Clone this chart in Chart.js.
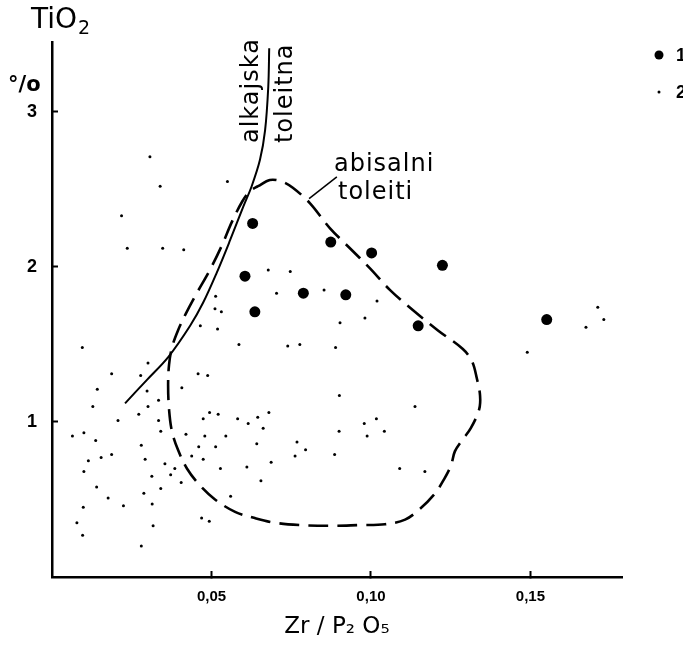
<!DOCTYPE html>
<html>
<head>
<meta charset="utf-8">
<script src="https://cdn.jsdelivr.net/npm/chart.js@4.4.0/dist/chart.umd.min.js"></script>
<style>
  html, body { margin: 0; padding: 0; background: #fff; }
  #wrap { width: 683px; height: 647px; }
</style>
</head>
<body>
<div id="wrap"><canvas id="chart" width="683" height="647"></canvas></div>
<script>
// axis ticks
const xTicks = [0.05, 0.10, 0.15];
const yTicks = [1, 2, 3];

// series 1 (big dots): [Zr/P2O5, TiO2 %]
const group1 = [
  [0.0629, 2.28], [0.0874, 2.16], [0.1002, 2.09], [0.1224, 2.01], [0.0605, 1.94],
  [0.0788, 1.83], [0.0921, 1.82], [0.0636, 1.71], [0.1148, 1.62], [0.1551, 1.66]
];

// series 2 (small dots)
const group2 = [
  [0.0307, 2.71], [0.0339, 2.52], [0.0550, 2.55], [0.0218, 2.33], [0.0236, 2.12],
  [0.0347, 2.12], [0.0413, 2.11], [0.0513, 1.81], [0.0511, 1.73], [0.0531, 1.71],
  [0.0465, 1.62], [0.0519, 1.60], [0.0678, 1.98], [0.0747, 1.97], [0.0704, 1.83],
  [0.0853, 1.85], [0.1019, 1.78], [0.0903, 1.64], [0.0981, 1.67], [0.0739, 1.49],
  [0.0777, 1.50], [0.0889, 1.48], [0.0901, 1.17], [0.1138, 1.10], [0.0645, 1.03],
  [0.0680, 1.06], [0.0662, 0.96], [0.0979, 0.99], [0.1017, 1.02], [0.0900, 0.94],
  [0.1042, 0.94], [0.0988, 0.91], [0.0642, 0.86], [0.0768, 0.87], [0.0795, 0.82],
  [0.0762, 0.78], [0.0886, 0.79], [0.0687, 0.74], [0.1090, 0.70], [0.1169, 0.68],
  [0.0655, 0.62], [0.0095, 1.48], [0.0301, 1.38], [0.0187, 1.31], [0.0278, 1.30],
  [0.0458, 1.31], [0.0488, 1.30], [0.0142, 1.21], [0.0298, 1.20], [0.0407, 1.22],
  [0.0334, 1.14], [0.0128, 1.10], [0.0301, 1.10], [0.0207, 1.01], [0.0272, 1.05],
  [0.0334, 1.01], [0.0494, 1.06], [0.0521, 1.05], [0.0474, 1.02], [0.0582, 1.02],
  [0.0615, 0.99], [0.0064, 0.91], [0.0100, 0.93], [0.0137, 0.88], [0.0341, 0.94],
  [0.0420, 0.92], [0.0479, 0.91], [0.0545, 0.91], [0.0280, 0.85], [0.0460, 0.84],
  [0.0513, 0.84], [0.0114, 0.75], [0.0154, 0.77], [0.0187, 0.79], [0.0292, 0.76],
  [0.0438, 0.78], [0.0474, 0.76], [0.0100, 0.68], [0.0354, 0.73], [0.0385, 0.70],
  [0.0372, 0.66], [0.0313, 0.65], [0.0528, 0.70], [0.0611, 0.71], [0.0405, 0.61],
  [0.0140, 0.58], [0.0341, 0.57], [0.0176, 0.51], [0.0288, 0.54], [0.0224, 0.46],
  [0.0314, 0.47], [0.0560, 0.52], [0.0098, 0.45], [0.0078, 0.35], [0.0469, 0.38],
  [0.0493, 0.36], [0.0096, 0.27], [0.0317, 0.33], [0.0280, 0.20], [0.0586, 1.50],
  [0.1711, 1.74], [0.1730, 1.66], [0.1674, 1.61], [0.1490, 1.45]
];

// boundary alkaline / tholeiitic (solid)
const boundaryLine = [
  [0.0229, 1.12], [0.0297, 1.27], [0.0365, 1.42], [0.0433, 1.62], [0.0474, 1.77],
  [0.0516, 1.96], [0.0558, 2.17], [0.0600, 2.39], [0.0626, 2.52], [0.0652, 2.69],
  [0.0668, 2.88], [0.0678, 3.16], [0.0681, 3.41]
];

// abyssal tholeiite field (dashed, closed)
const abyssalField = [
  [0.0646, 2.52], [0.0683, 2.56], [0.0721, 2.55], [0.0755, 2.51], [0.0809, 2.41],
  [0.0871, 2.25], [0.0934, 2.12], [0.0997, 1.99], [0.1060, 1.85], [0.1132, 1.72],
  [0.1210, 1.59], [0.1288, 1.47], [0.1317, 1.39], [0.1332, 1.28], [0.1342, 1.17],
  [0.1339, 1.08], [0.1313, 0.96], [0.1285, 0.88], [0.1263, 0.81], [0.1251, 0.72],
  [0.1229, 0.63], [0.1201, 0.54], [0.1154, 0.44], [0.1107, 0.37], [0.1044, 0.34],
  [0.0966, 0.335], [0.0871, 0.33], [0.0777, 0.335], [0.0699, 0.35], [0.0636, 0.38],
  [0.0574, 0.42], [0.0511, 0.50], [0.0464, 0.59], [0.0423, 0.70], [0.0395, 0.82],
  [0.0376, 0.94], [0.0367, 1.08], [0.0364, 1.24], [0.0367, 1.37], [0.0376, 1.48],
  [0.0395, 1.59], [0.0420, 1.70], [0.0451, 1.82], [0.0495, 1.98], [0.0533, 2.14],
  [0.0564, 2.29], [0.0596, 2.42], [0.0621, 2.49]
];

// pointer from the field label to its outline
const leaderLine = [[0.0806, 2.44], [0.0893, 2.58]];

const toXY = arr => arr.map(p => ({ x: p[0], y: p[1] }));
const txtFont = "'DejaVu Sans', sans-serif";
const numFont = "'Liberation Sans', Arial, sans-serif";

// labels, legend and axis caption drawn on top
const notes = {
  id: 'notes',
  afterDraw(chart) {
    const ctx = chart.ctx;
    ctx.save();
    ctx.fillStyle = '#000';
    ctx.textAlign = 'left';
    ctx.textBaseline = 'alphabetic';

    // y axis caption
    ctx.font = "28px " + txtFont;
    ctx.fillText('TiO', 31, 28);
    const w = ctx.measureText('TiO').width;
    ctx.font = "19px " + txtFont;
    ctx.fillText('2', 31 + w + 1, 34);
    ctx.font = "bold 21px " + txtFont;
    ctx.fillText('°/o', 8, 91);

    // curve labels
    ctx.font = "24px " + txtFont;
    ctx.letterSpacing = '1px';
    [['alkajska', 258, 143], ['toleitna', 292, 143]].forEach(([t, x, y]) => {
      ctx.save();
      ctx.translate(x, y);
      ctx.rotate(-Math.PI / 2);
      ctx.fillText(t, 0, 0);
      ctx.restore();
    });
    ctx.fillText('abisalni', 334, 171);
    ctx.fillText('toleiti', 338, 199);
    ctx.letterSpacing = '0px';

    // legend
    ctx.font = "bold 18px " + numFont;
    ctx.textBaseline = 'middle';
    ctx.beginPath();
    ctx.arc(659, 55, 4.5, 0, Math.PI * 2);
    ctx.fill();
    ctx.fillText('1', 676, 56);
    ctx.beginPath();
    ctx.arc(659, 92, 1.5, 0, Math.PI * 2);
    ctx.fill();
    ctx.fillText('2', 676, 93);
    ctx.restore();
  }
};

new Chart(document.getElementById('chart'), {
  type: 'scatter',
  data: {
    datasets: [
      {
        label: '1',
        data: toXY(group1),
        pointRadius: 5.5,
        pointBackgroundColor: '#000',
        pointBorderWidth: 0
      },
      {
        label: '2',
        data: toXY(group2),
        pointRadius: 1.5,
        pointBackgroundColor: '#000',
        pointBorderWidth: 0
      },
      {
        label: 'alkajska / toleitna',
        data: toXY(boundaryLine),
        showLine: true,
        pointRadius: 0,
        borderColor: '#000',
        borderWidth: 2,
        tension: 0.35
      },
      {
        label: 'abisalni toleiti',
        data: toXY(abyssalField.concat([abyssalField[0]])),
        showLine: true,
        pointRadius: 0,
        borderColor: '#000',
        borderWidth: 2.6,
        borderDash: [20, 9],
        tension: 0.35
      },
      {
        label: 'leader',
        data: toXY(leaderLine),
        showLine: true,
        pointRadius: 0,
        borderColor: '#000',
        borderWidth: 1.5
      }
    ]
  },
  options: {
    responsive: false,
    animation: false,
    layout: { padding: { left: 0, top: 42, right: 61, bottom: 0 } },
    plugins: {
      legend: { display: false },
      tooltip: { enabled: false }
    },
    scales: {
      x: {
        type: 'linear',
        min: 0,
        max: 0.1787,
        afterBuildTicks: s => { s.ticks = xTicks.map(v => ({ value: v })); },
        afterFit: s => { s.height = 70; },
        border: { display: true, color: '#000', width: 2.5 },
        grid: { display: true, drawOnChartArea: false, drawTicks: true, tickLength: -6, tickColor: '#000', tickWidth: 2 },
        ticks: {
          color: '#000',
          padding: 17,
          maxRotation: 0,
          font: { family: numFont, size: 15, weight: 'bold' },
          callback: v => v.toFixed(2).replace('.', ',')
        },
        title: {
          display: true,
          text: 'Zr / P₂ O₅',
          color: '#000',
          font: { family: txtFont, size: 23 },
          padding: { top: 0, bottom: 6 }
        }
      },
      y: {
        type: 'linear',
        min: 0,
        max: 3.45,
        afterBuildTicks: s => { s.ticks = yTicks.map(v => ({ value: v })); },
        afterFit: s => { s.width = 52; },
        border: { display: true, color: '#000', width: 2.5 },
        grid: { display: true, drawOnChartArea: false, drawTicks: true, tickLength: -6, tickColor: '#000', tickWidth: 2 },
        ticks: {
          color: '#000',
          padding: 21,
          font: { family: numFont, size: 18, weight: 'bold' }
        }
      }
    }
  },
  plugins: [notes]
});
</script>
</body>
</html>
